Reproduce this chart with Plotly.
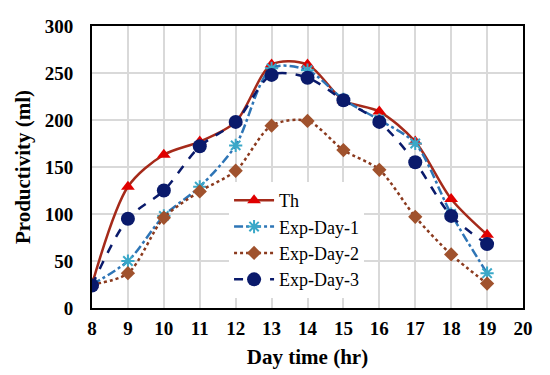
import plotly.graph_objects as go

hours = [8, 9, 10, 11, 12, 13, 14, 15, 16, 17, 18, 19]
th = [25, 129, 163, 177, 198, 259, 259, 221, 209, 177, 116, 78]
exp_day1 = [25, 50, 98, 129, 173, 255, 253, 222, 200, 175, 100, 37]
exp_day2 = [25, 37, 96, 124, 146, 194, 199, 168, 147, 97, 57, 26]
exp_day3 = [24, 95, 125, 172, 198, 248, 245, 221, 198, 155, 98, 68]

x_ticks = list(range(8, 21))
y_ticks = [0, 50, 100, 150, 200, 250, 300]

SM = 0.85
fig = go.Figure()
fig.add_trace(go.Scatter(x=hours, y=th, name="Th", mode="lines+markers",
                         line=dict(color="#A52A1A", width=2.5, shape="spline", smoothing=SM),
                         marker=dict(symbol="triangle-up", size=12, color="#E00000")))
fig.add_trace(go.Scatter(x=hours, y=exp_day1, name="Exp-Day-1", mode="lines+markers",
                         line=dict(color="#2E75B6", width=2.5, dash="dashdot", shape="spline", smoothing=SM),
                         marker=dict(symbol="asterisk-open", size=11, color="#3AA8C8",
                                     line=dict(width=2, color="#3A9AC4"))))
fig.add_trace(go.Scatter(x=hours, y=exp_day2, name="Exp-Day-2", mode="lines+markers",
                         line=dict(color="#8B3A1E", width=2.5, dash="dot", shape="spline", smoothing=SM),
                         marker=dict(symbol="diamond", size=11, color="#A0522D")))
fig.add_trace(go.Scatter(x=hours, y=exp_day3, name="Exp-Day-3", mode="lines+markers",
                         line=dict(color="#0A1A6B", width=2.5, dash="dash", shape="spline", smoothing=SM),
                         marker=dict(symbol="circle", size=14, color="#0A1A6B")))

font_family = "Liberation Serif, Times New Roman, serif"
fig.update_layout(
    width=542, height=367,
    margin=dict(l=84, r=27, t=18, b=67),
    paper_bgcolor="white", plot_bgcolor="white",
    font=dict(family=font_family, color="black"),
    showlegend=True,
    legend=dict(x=0.318, y=0.447, xanchor="left", yanchor="top",
                bgcolor="white", font=dict(size=18, family=font_family),
                tracegroupgap=0, itemwidth=40),
    xaxis=dict(range=[8, 20], tickvals=x_ticks, ticktext=[str(v) for v in x_ticks],
               showgrid=True, gridcolor="#D9D9D9", gridwidth=1.5,
               showline=True, linecolor="black", linewidth=2, mirror=True,
               ticks="outside", ticklen=2, tickcolor="rgba(0,0,0,0)", zeroline=False,
               automargin=False,
               tickfont=dict(size=19, family=font_family, weight="bold"),
               title=dict(text="<b>Day time (hr)</b>", font=dict(size=21, family=font_family), standoff=12)),
    yaxis=dict(range=[0, 300], tickvals=y_ticks,
               showgrid=True, gridcolor="#D9D9D9", gridwidth=1.5,
               showline=True, linecolor="black", linewidth=2, mirror=True,
               ticks="outside", ticklen=13, tickcolor="rgba(0,0,0,0)", zeroline=False,
               automargin=False,
               tickfont=dict(size=19, family=font_family, weight="bold"),
               title=dict(text="<b>Productivity (ml)</b>", font=dict(size=21, family=font_family), standoff=8)),
)
fig.write_html("out.html")
